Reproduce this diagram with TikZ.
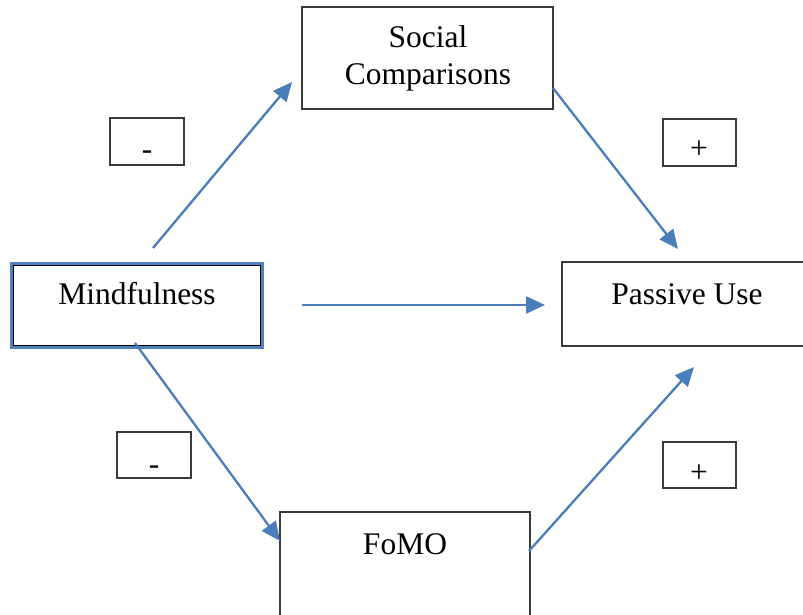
\documentclass[tikz,border=0pt]{standalone}
\usepackage{fontspec}
\setmainfont{Liberation Serif}
\usetikzlibrary{arrows.meta}
\definecolor{arrowblue}{HTML}{4A7EBB}
\definecolor{frameblue}{HTML}{4F81BD}
\definecolor{boxline}{HTML}{3A3A3A}
\begin{document}
\begin{tikzpicture}[x=1pt,y=-1pt,
  box/.style={draw=boxline, line width=1.1pt, fill=white, rectangle, inner sep=0pt, outer sep=0pt, anchor=north west},
  lbl/.style={inner sep=0pt, anchor=base, font=\fontsize{31.5}{36}\selectfont},
  path/.style={draw=arrowblue, line width=2.3pt, -{Triangle[length=19pt,width=17pt]}}]
\useasboundingbox (0,0) rectangle (803,615);
\fill[white] (0,0) rectangle (803,615);

% Mindfulness: blue outer frame around a black inner frame
\node[box, draw=frameblue, line width=3pt, minimum width=251pt, minimum height=84pt] (mfo) at (11.5,263.5) {};
\node[box, draw=black, line width=1.1pt, minimum width=247pt, minimum height=80pt] (mf) at (13.5,265.5) {};
\node[lbl] (mft) at (137,304.5) {Mindfulness};

% Social Comparisons
\node[box, minimum width=251pt, minimum height=102pt] (sc) at (302,7) {};
\node[lbl] (sct1) at (428,48) {Social};
\node[lbl] (sct2) at (428,85) {Comparisons};

% Passive Use (runs past the right edge)
\node[box, minimum width=250pt, minimum height=84pt] (pu) at (562,262) {};
\node[lbl] (put) at (687,304.5) {Passive Use};

% FoMO (runs past the bottom edge)
\node[box, minimum width=250pt, minimum height=120pt] (fo) at (280,512) {};
\node[lbl] (fot) at (405,554) {FoMO};

% sign boxes
\node[box, minimum width=74pt, minimum height=47pt] (s1) at (110,118) {};
\node[lbl] (s1t) at (147,159) {-};
\node[box, minimum width=73pt, minimum height=47pt] (s2) at (663,119) {};
\node[lbl] (s2t) at (699,158) {+};
\node[box, minimum width=74pt, minimum height=46pt] (s3) at (117,432) {};
\node[lbl] (s3t) at (154,474) {-};
\node[box, minimum width=73pt, minimum height=46pt] (s4) at (663,442) {};
\node[lbl] (s4t) at (699,482) {+};

% arrow end points
\coordinate (a1s) at (153,248);  \coordinate (a1e) at (292,82);
\coordinate (a2s) at (553,88);   \coordinate (a2e) at (678,249);
\coordinate (a3s) at (302,305);  \coordinate (a3e) at (545,305);
\coordinate (a4s) at (135,343);  \coordinate (a4e) at (280,541);
\coordinate (a5s) at (529,551);  \coordinate (a5e) at (694,367);

\draw[path] (a1s) -- (a1e);
\draw[path] (a2s) -- (a2e);
\draw[path] (a3s) -- (a3e);
\draw[path] (a4s) -- (a4e);
\draw[path] (a5s) -- (a5e);
\end{tikzpicture}
\end{document}
